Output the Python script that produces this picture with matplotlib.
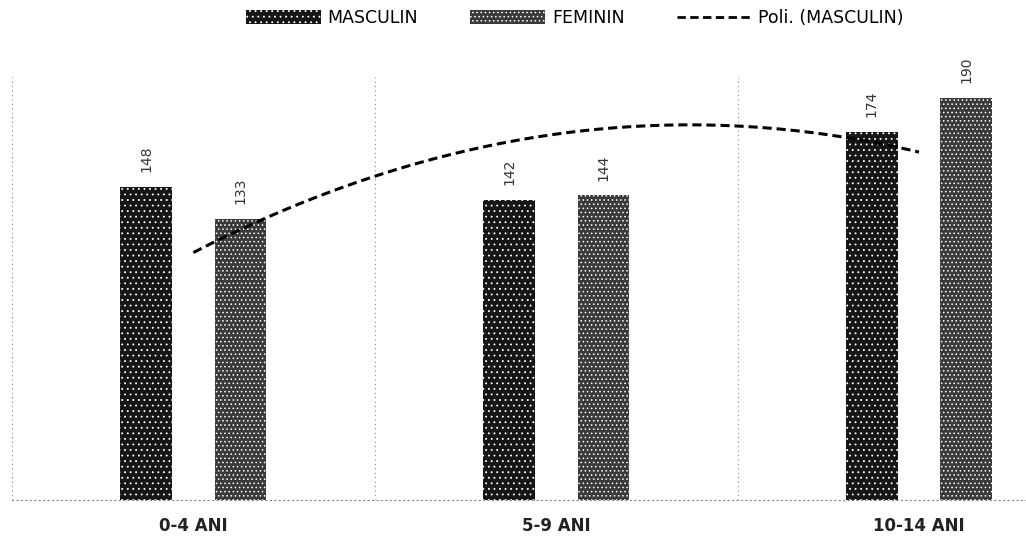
import numpy as np
import matplotlib.pyplot as plt
from matplotlib.patches import Patch
from matplotlib.lines import Line2D

categories = ['0-4 ANI', '5-9 ANI', '10-14 ANI']
masculin = [148, 142, 174]
feminin = [133, 144, 190]
# trendline values read at the category centres (Excel polynomial, order 2)
trend_at_cat = [117, 173, 164.5]

plt.rcParams['hatch.color'] = 'white'
plt.rcParams['hatch.linewidth'] = 0.6

fig = plt.figure(figsize=(10.26, 5.39), dpi=100)
ax = fig.add_axes([12/1026, 39/539, 1 - 12/1026, (500-77)/539])

x = np.arange(len(categories))
bw = 0.142
off = 0.13
b1 = ax.bar(x - off, masculin, bw, color='#161616', hatch='...', linewidth=0, zorder=2)
b2 = ax.bar(x + off, feminin, bw, color='#3a3a3a', hatch='....', linewidth=0, zorder=2)

for xi, v in zip(x - off, masculin):
    ax.text(xi, v + 7, str(v), rotation=90, ha='center', va='bottom', fontsize=10, color='#333333')
for xi, v in zip(x + off, feminin):
    ax.text(xi, v + 7, str(v), rotation=90, ha='center', va='bottom', fontsize=10, color='#333333')

coef = np.polyfit(x, trend_at_cat, 2)
xs = np.linspace(0, 2, 100)
ax.plot(xs, np.polyval(coef, xs), color='black', lw=2.2, linestyle=(0, (3, 1.6)), zorder=3)

for gx in [-0.5, 0.5, 1.5]:
    ax.axvline(gx, color='#888888', lw=0.8, linestyle=(0, (1, 3)), zorder=1)

ax.set_xlim(-0.5, 2.295)
ax.set_ylim(0, 200)
for s in ['top', 'right', 'left']:
    ax.spines[s].set_visible(False)
ax.spines['bottom'].set_color('#888888')
ax.spines['bottom'].set_linestyle((0, (1, 3)))
ax.spines['bottom'].set_linewidth(0.8)
ax.set_yticks([])
ax.set_xticks(x)
ax.set_xticklabels(categories, fontsize=12, fontweight='bold', color='#222222')
ax.tick_params(axis='x', length=0, pad=12)

handles = [Patch(facecolor='#161616', hatch='...', linewidth=0),
           Patch(facecolor='#3a3a3a', hatch='....', linewidth=0),
           Line2D([0], [0], color='black', lw=2, linestyle=(0, (3, 1.6)))]
fig.legend(handles, ['MASCULIN', 'FEMININ', 'Poli. (MASCULIN)'], loc='center',
           bbox_to_anchor=(575/1026, 1 - 18/539), ncol=3, frameon=False,
           fontsize=12.5, handlelength=4.3, handleheight=0.8, columnspacing=3.0,
           handletextpad=0.4)

plt.savefig('out.png', dpi=100)
